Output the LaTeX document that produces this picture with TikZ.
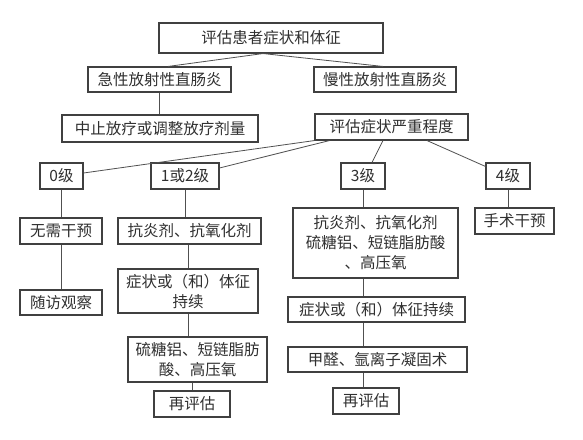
\documentclass[tikz,border=0pt]{standalone}
\usepackage{fontspec}
\newfontfamily\cjk{Noto Sans CJK SC}
\usetikzlibrary{calc}
\definecolor{linec}{HTML}{505050}
\definecolor{boxc}{HTML}{404040}
\definecolor{textc}{HTML}{303030}
\begin{document}
\begin{tikzpicture}[x=1pt,y=-1pt,
  box/.style={draw=boxc,line width=1.1pt,rectangle,inner sep=0pt,align=center,
    text=textc,font=\cjk\fontsize{15.5}{20}\selectfont},
  link/.style={draw=linec,line width=0.8pt}]
\fill[white] (0,0) rectangle (583,439);
\useasboundingbox (0,0) rectangle (583,439);
\newcommand\bx[6]{\node[box,minimum width=#4,minimum height=#5] (#1) at (#2,#3) {#6};}
\bx{top}{271}{38}{224}{30}{评估患者症状和体征}
\bx{acute}{159.5}{79.5}{143}{25}{急性放射性直肠炎}
\bx{chronic}{385}{79.5}{142}{25}{慢性放射性直肠炎}
\bx{stop}{160}{128.5}{196}{27}{中止放疗或调整放疗剂量}
\bx{assess}{391.5}{127}{153}{26}{评估症状严重程度}
\bx{g0}{61.5}{176}{43}{26}{0级}
\bx{g12}{185}{176}{68}{26}{1或2级}
\bx{g3}{363}{176}{44}{26}{3级}
\bx{g4}{508}{176}{44}{26}{4级}
\bx{noint}{61}{231}{82}{26}{无需干预}
\bx{follow}{61}{302.5}{82}{25}{随访观察}
\bx{anti1}{189.5}{231}{143}{26}{抗炎剂、抗氧化剂}
\bx{persist1}{188}{291}{140}{44}{症状或（和）体征\\持续}
\bx{suc1}{197.5}{359.5}{139}{45}{硫糖铝、短链脂肪\\酸、高压氧}
\bx{re1}{192}{404}{76}{26}{再评估}
\bx{big3}{375.5}{243}{165}{70}{抗炎剂、抗氧化剂\\硫糖铝、短链脂肪酸\\、高压氧}
\bx{persist3}{376.5}{309.5}{177}{25}{症状或（和）体征持续}
\bx{form3}{377.5}{359.5}{179}{25}{甲醛、氩离子凝固术}
\bx{re3}{366}{401}{66}{26}{再评估}
\bx{surg}{514.5}{221}{79}{26}{手术干预}
% fan from top
\coordinate (apex) at ($(top.south)+(-8,0)$);
\draw[link] (apex) -- ($(acute.north)+(8.5,0)$);
\draw[link] (apex) -- ($(chronic.north)+(-2,0)$);
\draw[link] (acute.south) -- (acute.south |- stop.north);
\draw[link] ($(chronic.south)+(-2,0)$) -- ($(chronic.south)+(-2,0)$ |- assess.north);
% fan from assess
\draw[link] (assess.south west) -- ($(g0.east)+(0,-3)$);
\draw[link] ($(assess.south west)+(15,0)$) -- ($(g12.east)+(0,-8)$);
\draw[link] ($(assess.south)+(-8.5,0)$) -- ($(g3.north)+(9,0)$);
\draw[link] ($(assess.south)+(35.5,0)$) -- ($(g4.north west)+(0,4)$);
% left column
\draw[link] (g0.south) -- (g0.south |- noint.north);
\draw[link] (noint.south -| g0) -- (follow.north -| g0);
\draw[link] (g12.south) -- (g12.south |- anti1.north);
\draw[link] (persist1.north) -- (persist1.north |- anti1.south);
\draw[link] (persist1.south) -- (persist1.south |- suc1.north);
\draw[link] (re1.north) -- (re1.north |- suc1.south);
% grade 3 column
\draw[link] (g3.south) -- (g3.south |- big3.north);
\draw[link] (big3.south -| g3) -- (persist3.north -| g3);
\draw[link] (persist3.south -| g3) -- (form3.north -| g3);
\draw[link] (form3.south -| g3) -- (re3.north -| g3);
% grade 4
\draw[link] (g4.south) -- (g4.south |- surg.north);
\end{tikzpicture}
\end{document}
